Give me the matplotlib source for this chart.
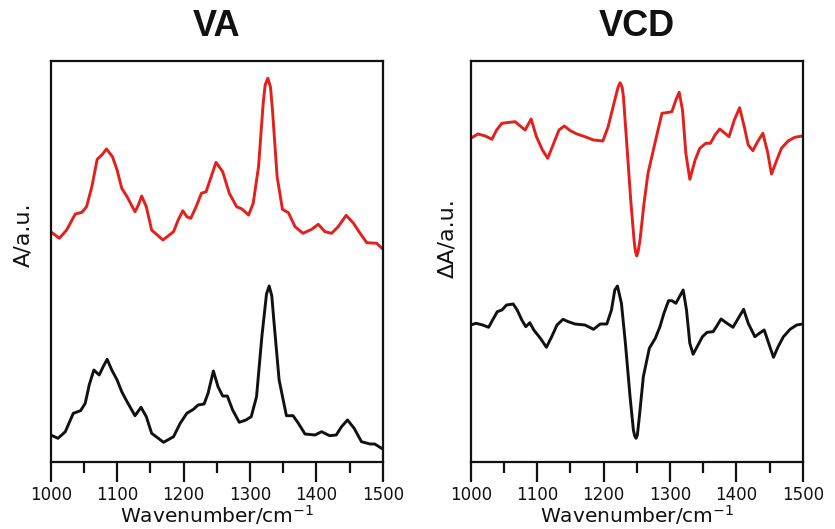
import matplotlib
matplotlib.use("Agg")
import matplotlib.pyplot as plt
from matplotlib.ticker import MultipleLocator

plt.rcParams['font.family'] = ['DejaVu Sans']
plt.rcParams['mathtext.fontset'] = 'dejavusans'

# ---------------- data (wavenumber in cm-1, intensity in arbitrary units) ----------------
va_red_x = [1000, 1013, 1024, 1037, 1047, 1054, 1062, 1070, 1077, 1084, 1093, 1100, 1107, 1115,
            1127, 1132, 1137, 1144, 1152, 1169, 1185, 1192, 1199, 1205, 1211, 1219, 1227, 1234,
            1240, 1249, 1259, 1269, 1280, 1288, 1298, 1305, 1313, 1320, 1323, 1327, 1331, 1334, 1341, 1349,
            1358, 1368, 1380, 1393, 1403, 1413, 1423, 1433, 1445, 1456, 1466, 1476, 1491, 1500]
va_red_y = [230.3, 223.7, 232, 248, 249.7, 255.3, 275.3, 302.7, 307, 313, 305.3, 292, 273.7, 265.3,
            250.3, 257, 266, 255.3, 232, 222, 230.3, 242, 251.3, 245.3, 243.7, 255.3, 268.7, 270.3,
            282, 299.7, 290.3, 268.7, 255.3, 253, 247, 258.7, 295.3, 358.7, 377, 383.7, 375, 352, 285.3, 252.7,
            249.3, 235.3, 228.7, 232.7, 237.7, 230.3, 228.7, 235.3, 246.7, 238.7, 228.7, 219.3, 218.7, 213]

va_black_x = [1000, 1011, 1022, 1034, 1045, 1052, 1058, 1065, 1073, 1079, 1085, 1092, 1100, 1107,
              1115, 1127, 1136, 1144, 1152, 1170, 1185, 1195, 1205, 1215, 1222, 1231, 1237, 1245,
              1252, 1259, 1266, 1274, 1284, 1294, 1302, 1310, 1318, 1325, 1329, 1333, 1336, 1344, 1355, 1365,
              1373, 1383, 1398, 1408, 1420, 1430, 1438, 1447, 1457, 1468, 1481, 1488, 1500]
va_black_y = [27, 23.7, 30.3, 48.7, 51.3, 58.7, 77, 92, 87, 95.3, 102.7, 92, 82, 70.3,
              60.3, 46.3, 54.7, 45.3, 28.7, 19.7, 25.3, 38.7, 48.7, 52.7, 57, 58, 68.7, 91,
              75.3, 66, 66, 52, 39.7, 42, 45.3, 65.3, 125.3, 168, 176, 166, 142, 82, 46.3, 46.3,
              38.7, 28, 27, 30.3, 26.3, 27, 35.3, 42, 33.7, 20.3, 18, 18, 13]

vcd_red_x = [1000, 1011, 1022, 1032, 1039, 1047, 1059, 1067, 1074, 1082, 1091, 1099, 1108, 1116,
             1124, 1133, 1141, 1150, 1160, 1172, 1185, 1199, 1207, 1217, 1222, 1225, 1228, 1230, 1235, 1241,
             1246, 1248, 1250, 1252, 1255, 1261, 1267, 1278, 1288, 1295, 1303, 1309, 1314, 1319, 1324, 1330,
             1338, 1345, 1354, 1361, 1368, 1375, 1383, 1389, 1397, 1405, 1412, 1418, 1425, 1432,
             1440, 1447, 1453, 1461, 1468, 1478, 1488, 1500]
vcd_red_y = [323.7, 328, 326, 322.7, 332, 338.7, 339.7, 340.3, 336.3, 332, 343, 325.3, 312, 303.7,
             317, 332, 336, 331.3, 328, 325.3, 322, 321, 335.3, 362, 375, 379.3, 375, 365.3, 318.7, 262,
             222, 211, 206, 210, 222, 258.7, 288.7, 320.3, 348.7, 349.3, 350.3, 362, 369.7, 352, 308.7, 282.7,
             302, 313.7, 318.7, 318.7, 327, 333, 328.7, 325.3, 342, 354.3, 335.3, 317, 311.3, 320.3,
             328.7, 310.3, 288, 302, 313.7, 321, 324.7, 326]

vcd_black_x = [1000, 1008, 1018, 1027, 1033, 1040, 1047, 1054, 1064, 1070, 1077, 1083, 1089, 1095,
               1105, 1114, 1122, 1130, 1139, 1147, 1157, 1172, 1185, 1195, 1205, 1212, 1217, 1221,
               1227, 1233, 1240, 1245, 1247, 1249, 1251, 1254, 1260, 1269, 1278, 1285, 1291, 1298, 1303, 1309,
               1315, 1320, 1325, 1330, 1335, 1341, 1349, 1356, 1365, 1370, 1377, 1386, 1395, 1403,
               1411, 1418, 1428, 1436, 1442, 1448, 1456, 1463, 1471, 1481, 1491, 1500]
vcd_black_y = [137, 138.7, 137, 134.7, 142, 150.3, 152, 157, 158, 152, 142, 135.3, 139.3, 132,
               123.7, 114.7, 125.3, 137, 142.7, 140.3, 138, 137, 132.7, 138, 138, 152, 172, 176,
               158.7, 118.7, 65.3, 32, 26, 23.7, 27, 45.3, 85.3, 113.7, 123.7, 135.3, 148.7, 161.3, 161.3, 158.7,
               166, 172, 152, 118.7, 107.7, 115.3, 125.3, 129.7, 130.3, 135.3, 143, 138.7, 134.7, 143.7,
               152.7, 138.7, 125.3, 129.3, 132, 120.3, 104.7, 115.3, 125.3, 132.7, 137, 138]

x_ticks = [1000, 1100, 1200, 1300, 1400, 1500]
titles = ["VA", "VCD"]
ylabels = ["A/a.u.", "\u0394A/a.u."]

# ---------------- figure ----------------
W, H = 835, 529
fig = plt.figure(figsize=(W / 100, H / 100), dpi=100)

RED = '#e3201c'
axes_px = [(50.7, 61, 382.7, 462), (470.7, 61, 802.7, 462)]
series = [((va_red_x, va_red_y), (va_black_x, va_black_y)),
          ((vcd_red_x, vcd_red_y), (vcd_black_x, vcd_black_y))]

for i, (x0, y0, x1, y1) in enumerate(axes_px):
    ax = fig.add_axes([x0 / W, 1 - y1 / H, (x1 - x0) / W, (y1 - y0) / H])
    (rx, ry), (bx, by) = series[i]
    ax.plot(rx, ry, color=RED, lw=2.1, solid_joinstyle='round', solid_capstyle='round')
    ax.plot(bx, by, color='#111111', lw=2.1, solid_joinstyle='round', solid_capstyle='round')
    ax.set_xlim(1000, 1500)
    ax.set_ylim(0, 401)
    ax.set_xticks(x_ticks)
    ax.xaxis.set_minor_locator(MultipleLocator(50))
    ax.set_yticks([])
    for sp in ax.spines.values():
        sp.set_linewidth(1.6)
        sp.set_color('#111111')
    ax.tick_params(axis='x', which='major', direction='out', length=14.5, width=1.6,
                   labelsize=12, pad=3, color='#111111', labelcolor='#111111')
    ax.tick_params(axis='x', which='minor', direction='out', length=8, width=1.6, color='#111111')
    ax.set_xlabel('Wavenumber/cm$^{-1}$', fontsize=14.5, labelpad=-1, color='#111111')
    cx = (x0 + x1) / 2
    fig.text(cx / W, 1 - 26 / H, titles[i], ha='center', va='center',
             fontsize=26, fontweight='bold', family='Liberation Sans', color='#111111')

fig.text(23 / W, 1 - 235 / H, ylabels[0], rotation=90, ha='center', va='center',
         fontsize=16, color='#111111')
fig.text(447 / W, 1 - 238 / H, ylabels[1], rotation=90, ha='center', va='center',
         fontsize=16, color='#111111')

fig.savefig('out.png', dpi=100)
